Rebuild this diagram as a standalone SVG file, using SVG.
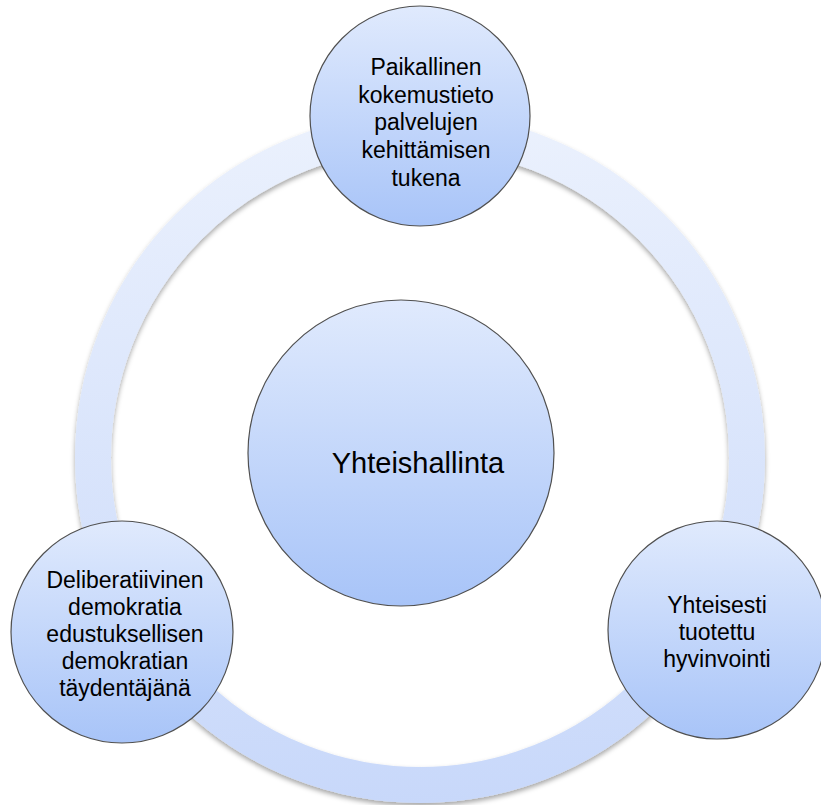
<svg xmlns="http://www.w3.org/2000/svg" width="821" height="805" viewBox="0 0 821 805">
<defs>
<linearGradient id="ringGrad" gradientUnits="userSpaceOnUse" x1="0" y1="113" x2="0" y2="803">
<stop offset="0" stop-color="#ebf1fd"/>
<stop offset="1" stop-color="#c8d8fa"/>
</linearGradient>
<linearGradient id="nodeGrad" x1="0" y1="0" x2="0" y2="1">
<stop offset="0" stop-color="#e0eafd"/>
<stop offset="1" stop-color="#a8c4f8"/>
</linearGradient>
<filter id="shadow" x="-10%" y="-10%" width="120%" height="120%">
<feDropShadow dx="0" dy="3" stdDeviation="2.5" flood-color="#000" flood-opacity="0.35"/>
</filter>
</defs>
<style>
.node{fill:url(#nodeGrad);stroke:#505050;stroke-width:1.2}
.lbl{font-family:"Liberation Sans",Arial,sans-serif;fill:#000;text-anchor:middle}
.sm{font-size:23px}
.big{font-size:29px}
</style>
<rect width="821" height="805" fill="#fff"/>
<g id="connectors">
<circle cx="420" cy="458" r="327" fill="none" stroke="url(#ringGrad)" stroke-width="36" filter="url(#shadow)"/>
</g>
<g id="center">
<circle class="node" cx="401" cy="453" r="153"/>
<text class="lbl big" x="418" y="473">Yhteishallinta</text>
</g>
<g id="top">
<circle class="node" cx="420" cy="116" r="110"/>
<text class="lbl sm" x="426" y="75">Paikallinen</text>
<text class="lbl sm" x="426" y="103">kokemustieto</text>
<text class="lbl sm" x="426" y="130">palvelujen</text>
<text class="lbl sm" x="426" y="158">kehittämisen</text>
<text class="lbl sm" x="426" y="186">tukena</text>
</g>
<g id="left">
<circle class="node" cx="122" cy="632" r="111"/>
<text class="lbl sm" x="125" y="588">Deliberatiivinen</text>
<text class="lbl sm" x="125" y="615">demokratia</text>
<text class="lbl sm" x="125" y="642">edustuksellisen</text>
<text class="lbl sm" x="125" y="669">demokratian</text>
<text class="lbl sm" x="125" y="696">täydentäjänä</text>
</g>
<g id="right">
<circle class="node" cx="717" cy="630" r="109"/>
<text class="lbl sm" x="717" y="613">Yhteisesti</text>
<text class="lbl sm" x="717" y="640">tuotettu</text>
<text class="lbl sm" x="717" y="667">hyvinvointi</text>
</g>
</svg>
